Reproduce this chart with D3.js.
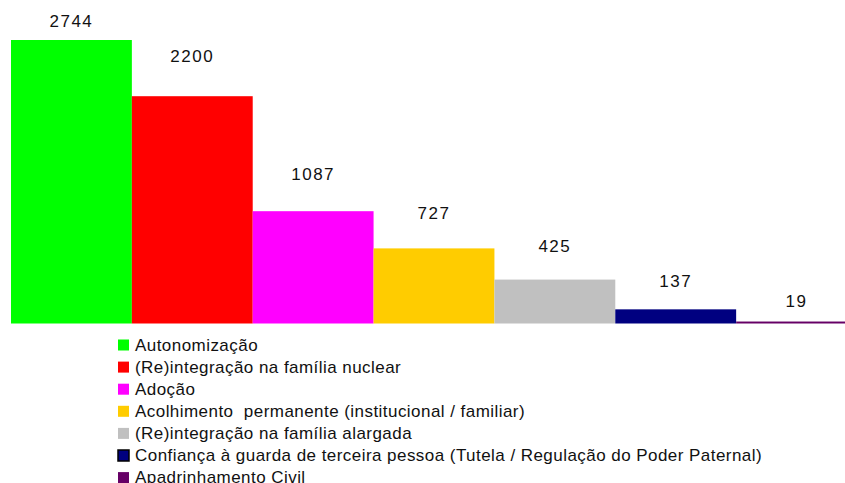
<!DOCTYPE html>
<head>
    <meta charset="utf-8">
    <script src="https://d3js.org/d3.v7.min.js"></script>
    <title>Destinos</title>
    <style>
        body { margin: 0; background: white; }
        text { font-family: "Liberation Sans", Arial, sans-serif; fill: #111; }
    </style>
</head>
<body>
<svg class="chart" width="845" height="483"></svg>
<script>
    const categories = [
        "Autonomização",
        "(Re)integração na família nuclear",
        "Adoção",
        "Acolhimento  permanente (institucional / familiar)",
        "(Re)integração na família alargada",
        "Confiança à guarda de terceira pessoa (Tutela / Regulação do Poder Paternal)",
        "Apadrinhamento Civil"
    ];
    const values = [2744, 2200, 1087, 727, 425, 137, 19];
    const colors = ["#00FF00", "#FF0000", "#FF00FF", "#FFCC00", "#C0C0C0", "#000080", "#660066"];

    const svg = d3.select(".chart");

    // bars run past the right edge a little, like the original
    const x = d3.scaleBand()
        .domain(categories)
        .range([11, 857])
        .paddingInner(0);

    const y = d3.scaleLinear()
        .domain([0, d3.max(values)])
        .range([323.5, 40]);

    const data = categories.map((c, i) => ({name: c, value: values[i], color: colors[i]}));

    svg.append("g")
        .selectAll("rect")
        .data(data)
        .enter()
        .append("rect")
        .attr("x", d => x(d.name))
        .attr("width", x.bandwidth())
        .attr("y", d => y(d.value))
        .attr("height", d => y(0) - y(d.value))
        .attr("fill", d => d.color);

    // value labels sit above the bars
    svg.append("g")
        .selectAll("text")
        .data(data)
        .enter()
        .append("text")
        .attr("x", d => x(d.name) + x.bandwidth() / 2)
        .attr("y", d => Math.max(27, y(d.value) - (3 + 9.2 * Math.log10(d.value))))
        .attr("text-anchor", "middle")
        .style("font-size", "17px")
        .style("letter-spacing", "1.5px")
        .text(d => d.value);

    // legend
    const legend = svg.append("g")
        .selectAll("g")
        .data(data)
        .enter()
        .append("g")
        .attr("transform", (d, i) => "translate(118," + (339.5 + i * 22.1) + ")");

    legend.append("rect")
        .attr("width", 11)
        .attr("height", 11)
        .attr("fill", d => d.color)
        .attr("stroke", (d, i) => i === 5 ? "#000" : "none")
        .attr("stroke-width", 1.5);

    legend.append("text")
        .attr("x", 17)
        .attr("y", 11)
        .style("font-size", "17px")
        .style("letter-spacing", "0.45px")
        .style("white-space", "pre")
        .text(d => d.name);
</script>
</body>
